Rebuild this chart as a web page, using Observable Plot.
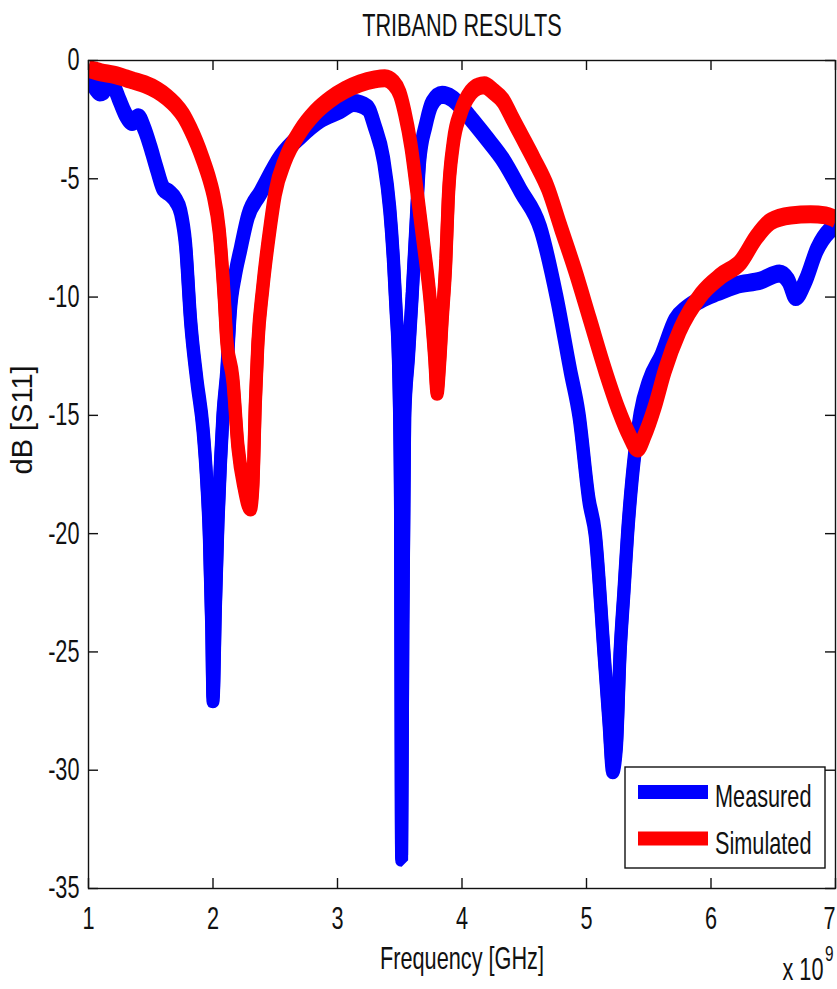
<!DOCTYPE html>
<html>
<head>
<meta charset="utf-8">
<script src="https://cdn.jsdelivr.net/npm/d3@7"></script>
<script src="https://cdn.jsdelivr.net/npm/@observablehq/plot@0.6"></script>
<style>
  html, body { margin: 0; padding: 0; background: #fff; }
  svg { display: block; }
</style>
</head>
<body>
<div id="chart"></div>
<script>
// ---- data ----
const chartTitle = "TRIBAND RESULTS";
const xLabel = "Frequency [GHz]";
const yLabel = "dB [S11]";
const xExponentBase = "x 10";
const xExponent = "9";
const seriesNames = ["Measured", "Simulated"];
const seriesColors = ["#0000ff", "#ff0000"];
const xTicks = [1, 2, 3, 4, 5, 6, 7];
const yTicks = [0, -5, -10, -15, -20, -25, -30, -35];

// Measured (frequency in units of 1e9 Hz, S11 in dB)
const measuredFreq = [1.00, 1.03, 1.06, 1.09, 1.12, 1.15, 1.20, 1.25, 1.30, 1.35, 1.40, 1.45, 1.50, 1.55, 1.60, 1.65, 1.70, 1.74, 1.78, 1.82, 1.87, 1.92, 1.95, 1.97, 1.99, 2.00, 2.02, 2.04, 2.06, 2.08, 2.11, 2.14, 2.18, 2.22, 2.28, 2.38, 2.54, 2.70, 2.86, 3.02, 3.13, 3.24, 3.30, 3.37, 3.42, 3.45, 3.47, 3.49, 3.505, 3.515, 3.525, 3.54, 3.57, 3.60, 3.63, 3.66, 3.71, 3.76, 3.84, 3.92, 4.00, 4.07, 4.20, 4.33, 4.47, 4.63, 4.76, 4.87, 4.94, 5.02, 5.07, 5.14, 5.18, 5.21, 5.24, 5.27, 5.30, 5.33, 5.39, 5.43, 5.50, 5.60, 5.71, 5.80, 5.92, 6.05, 6.20, 6.40, 6.55, 6.62, 6.68, 6.76, 6.85, 6.95, 7.00];
const measuredDb   = [-0.6, -0.9, -1.2, -1.35, -1.3, -1.0, -1.1, -1.7, -2.3, -2.6, -2.4, -2.9, -3.7, -4.6, -5.4, -5.6, -5.9, -6.4, -7.8, -11.0, -13.5, -15.6, -17.8, -20.0, -24.0, -27.0, -23.0, -19.5, -17.0, -15.0, -13.2, -10.5, -9.0, -8.0, -6.6, -5.6, -4.1, -3.2, -2.5, -2.1, -1.8, -2.0, -2.8, -4.2, -6.3, -8.5, -10.5, -12.8, -18.0, -33.7, -24.0, -15.0, -12.5, -9.9, -7.0, -4.2, -2.7, -1.8, -1.45, -1.6, -2.0, -2.45, -3.3, -4.2, -5.5, -7.1, -10.0, -13.1, -15.0, -18.6, -20.0, -25.0, -27.9, -30.0, -29.0, -25.0, -22.5, -20.0, -16.5, -15.0, -13.6, -12.5, -11.0, -10.5, -10.1, -9.8, -9.5, -9.3, -9.0, -9.3, -10.0, -9.3, -8.0, -7.2, -7.0];

// Simulated
const simulatedFreq = [1.00, 1.10, 1.20, 1.30, 1.36, 1.45, 1.55, 1.63, 1.70, 1.76, 1.82, 1.87, 1.92, 1.97, 2.00, 2.05, 2.09, 2.11, 2.16, 2.20, 2.25, 2.30, 2.32, 2.34, 2.36, 2.40, 2.46, 2.50, 2.58, 2.70, 2.82, 2.94, 3.06, 3.18, 3.30, 3.38, 3.45, 3.50, 3.54, 3.59, 3.64, 3.69, 3.74, 3.78, 3.80, 3.82, 3.84, 3.87, 3.89, 3.93, 3.99, 4.07, 4.13, 4.18, 4.25, 4.33, 4.40, 4.47, 4.58, 4.69, 4.79, 4.91, 5.03, 5.15, 5.26, 5.34, 5.41, 5.47, 5.55, 5.63, 5.75, 5.92, 6.08, 6.24, 6.36, 6.48, 6.64, 6.80, 6.92, 7.00];
const simulatedDb   = [-0.35, -0.5, -0.6, -0.75, -0.85, -1.0, -1.25, -1.55, -1.9, -2.3, -2.9, -3.5, -4.2, -5.0, -5.6, -7.2, -10.0, -11.8, -13.5, -16.3, -18.0, -18.9, -18.0, -14.5, -12.0, -9.6, -7.0, -5.6, -4.2, -3.0, -2.2, -1.65, -1.25, -0.97, -0.8, -0.75, -0.95, -1.4, -2.2, -3.6, -5.6, -7.7, -9.9, -12.5, -14.0, -12.8, -11.0, -8.5, -5.8, -3.5, -2.2, -1.35, -1.1, -1.05, -1.3, -1.7, -2.4, -3.1, -4.2, -5.4, -7.0, -8.9, -11.0, -13.1, -14.8, -15.8, -16.4, -15.8, -14.6, -13.1, -11.4, -9.9, -9.1, -8.5, -7.5, -6.8, -6.55, -6.5, -6.55, -6.7];

// ---- layout ----
const W = 837, H = 989;
const mL = 88, mR = 2, mT = 60, mB = 101;
const fw = W - mL - mR, fh = H - mT - mB;
const tickLen = 10;
const squeeze = 0.70;
const font = "'Liberation Sans', Arial, 'DejaVu Sans', sans-serif";
const ink = "#111";

const measured = measuredFreq.map((f, i) => ({f, db: measuredDb[i]}));
const simulated = simulatedFreq.map((f, i) => ({f, db: simulatedDb[i]}));

function thickLine(data, color) {
  const opts = {x: "f", y: "db", stroke: color, strokeWidth: 13, strokeLinejoin: "bevel", strokeLinecap: "butt", curve: "monotone-x", clip: true};
  return [
    Plot.line(data, {...opts, dy: -2.5}),
    Plot.line(data, {...opts, dy: 2.5})
  ];
}

const plot = Plot.plot({
  width: W, height: H,
  marginLeft: mL, marginRight: mR, marginTop: mT, marginBottom: mB,
  style: {fontFamily: font, fontSize: "31px", background: "#fff", color: ink, overflow: "visible"},
  x: {domain: [1, 7], axis: null},
  y: {domain: [-35, 0], axis: null},
  marks: [
    ...thickLine(measured, seriesColors[0]),
    ...thickLine(simulated, seriesColors[1]),
    Plot.frame({stroke: ink, strokeWidth: 1.4}),
    Plot.tickX(xTicks, {x: d => d, insetTop: fh - tickLen, stroke: ink, strokeWidth: 1.4}),
    Plot.tickX(xTicks, {x: d => d, insetBottom: fh - tickLen, stroke: ink, strokeWidth: 1.4}),
    Plot.tickY(yTicks, {y: d => d, insetRight: fw - tickLen, stroke: ink, strokeWidth: 1.4}),
    Plot.tickY(yTicks, {y: d => d, insetLeft: fw - tickLen, stroke: ink, strokeWidth: 1.4}),
    Plot.text(xTicks.slice(0, -1), {x: d => d, text: d => String(d), frameAnchor: "bottom", lineAnchor: "bottom", dy: 40, fill: ink}),
    Plot.text(xTicks.slice(-1), {x: d => d, text: d => String(d), frameAnchor: "bottom", lineAnchor: "bottom", dy: 40, dx: -6, fill: ink}),
    Plot.text(yTicks, {y: d => d, text: d => String(d), frameAnchor: "left", textAnchor: "end", lineAnchor: "middle", dx: -9, fill: ink}),
    Plot.text([chartTitle], {text: d => d, frameAnchor: "top", lineAnchor: "bottom", dy: -25, fill: ink}),
    Plot.text([xLabel], {text: d => d, frameAnchor: "bottom", lineAnchor: "bottom", dy: 80, fill: ink}),
    Plot.text([yLabel], {text: d => d, frameAnchor: "left", lineAnchor: "bottom", rotate: -90, dx: -57, fontSize: 29, fill: ink}),
    Plot.text([xExponentBase], {text: d => d, frameAnchor: "bottom-right", textAnchor: "end", lineAnchor: "bottom", dx: -12, dy: 91, fill: ink}),
    Plot.text([xExponent], {text: d => d, frameAnchor: "bottom-right", textAnchor: "end", lineAnchor: "bottom", dx: -2, dy: 72, fontSize: 22, fill: ink})
  ]
});

document.getElementById("chart").appendChild(plot);

// ---- legend (inside the axes, lower right) ----
const svg = d3.select(plot);
const lg = svg.append("g").attr("font-family", font).attr("font-size", 31).attr("text-anchor", "start");
const boxX = 625, boxY = 767, boxW = 200, boxH = 101;
lg.append("rect").attr("x", boxX).attr("y", boxY).attr("width", boxW).attr("height", boxH)
  .attr("fill", "#fff").attr("stroke", ink).attr("stroke-width", 1.4);
seriesNames.forEach((name, i) => {
  const cy = boxY + 25 + i * 46.5;
  lg.append("line").attr("x1", boxX + 13).attr("x2", boxX + 83).attr("y1", cy).attr("y2", cy)
    .attr("stroke", seriesColors[i]).attr("stroke-width", 14);
  lg.append("text").attr("transform", `translate(${boxX + 90},${cy + 15})`).attr("fill", ink).text(name);
});

// ---- condense horizontal text (narrow MATLAB-style lettering) via a horizontal scale about each anchor ----
plot.querySelectorAll("text").forEach(t => {
  if (t.textContent === yLabel) return;
  const x = +(t.getAttribute("x") || 0);
  const tr = t.getAttribute("transform") || "";
  t.setAttribute("x", 0);
  t.setAttribute("transform", `${tr} translate(${x},0) scale(${squeeze},1)`.trim());
});
</script>
</body>
</html>
